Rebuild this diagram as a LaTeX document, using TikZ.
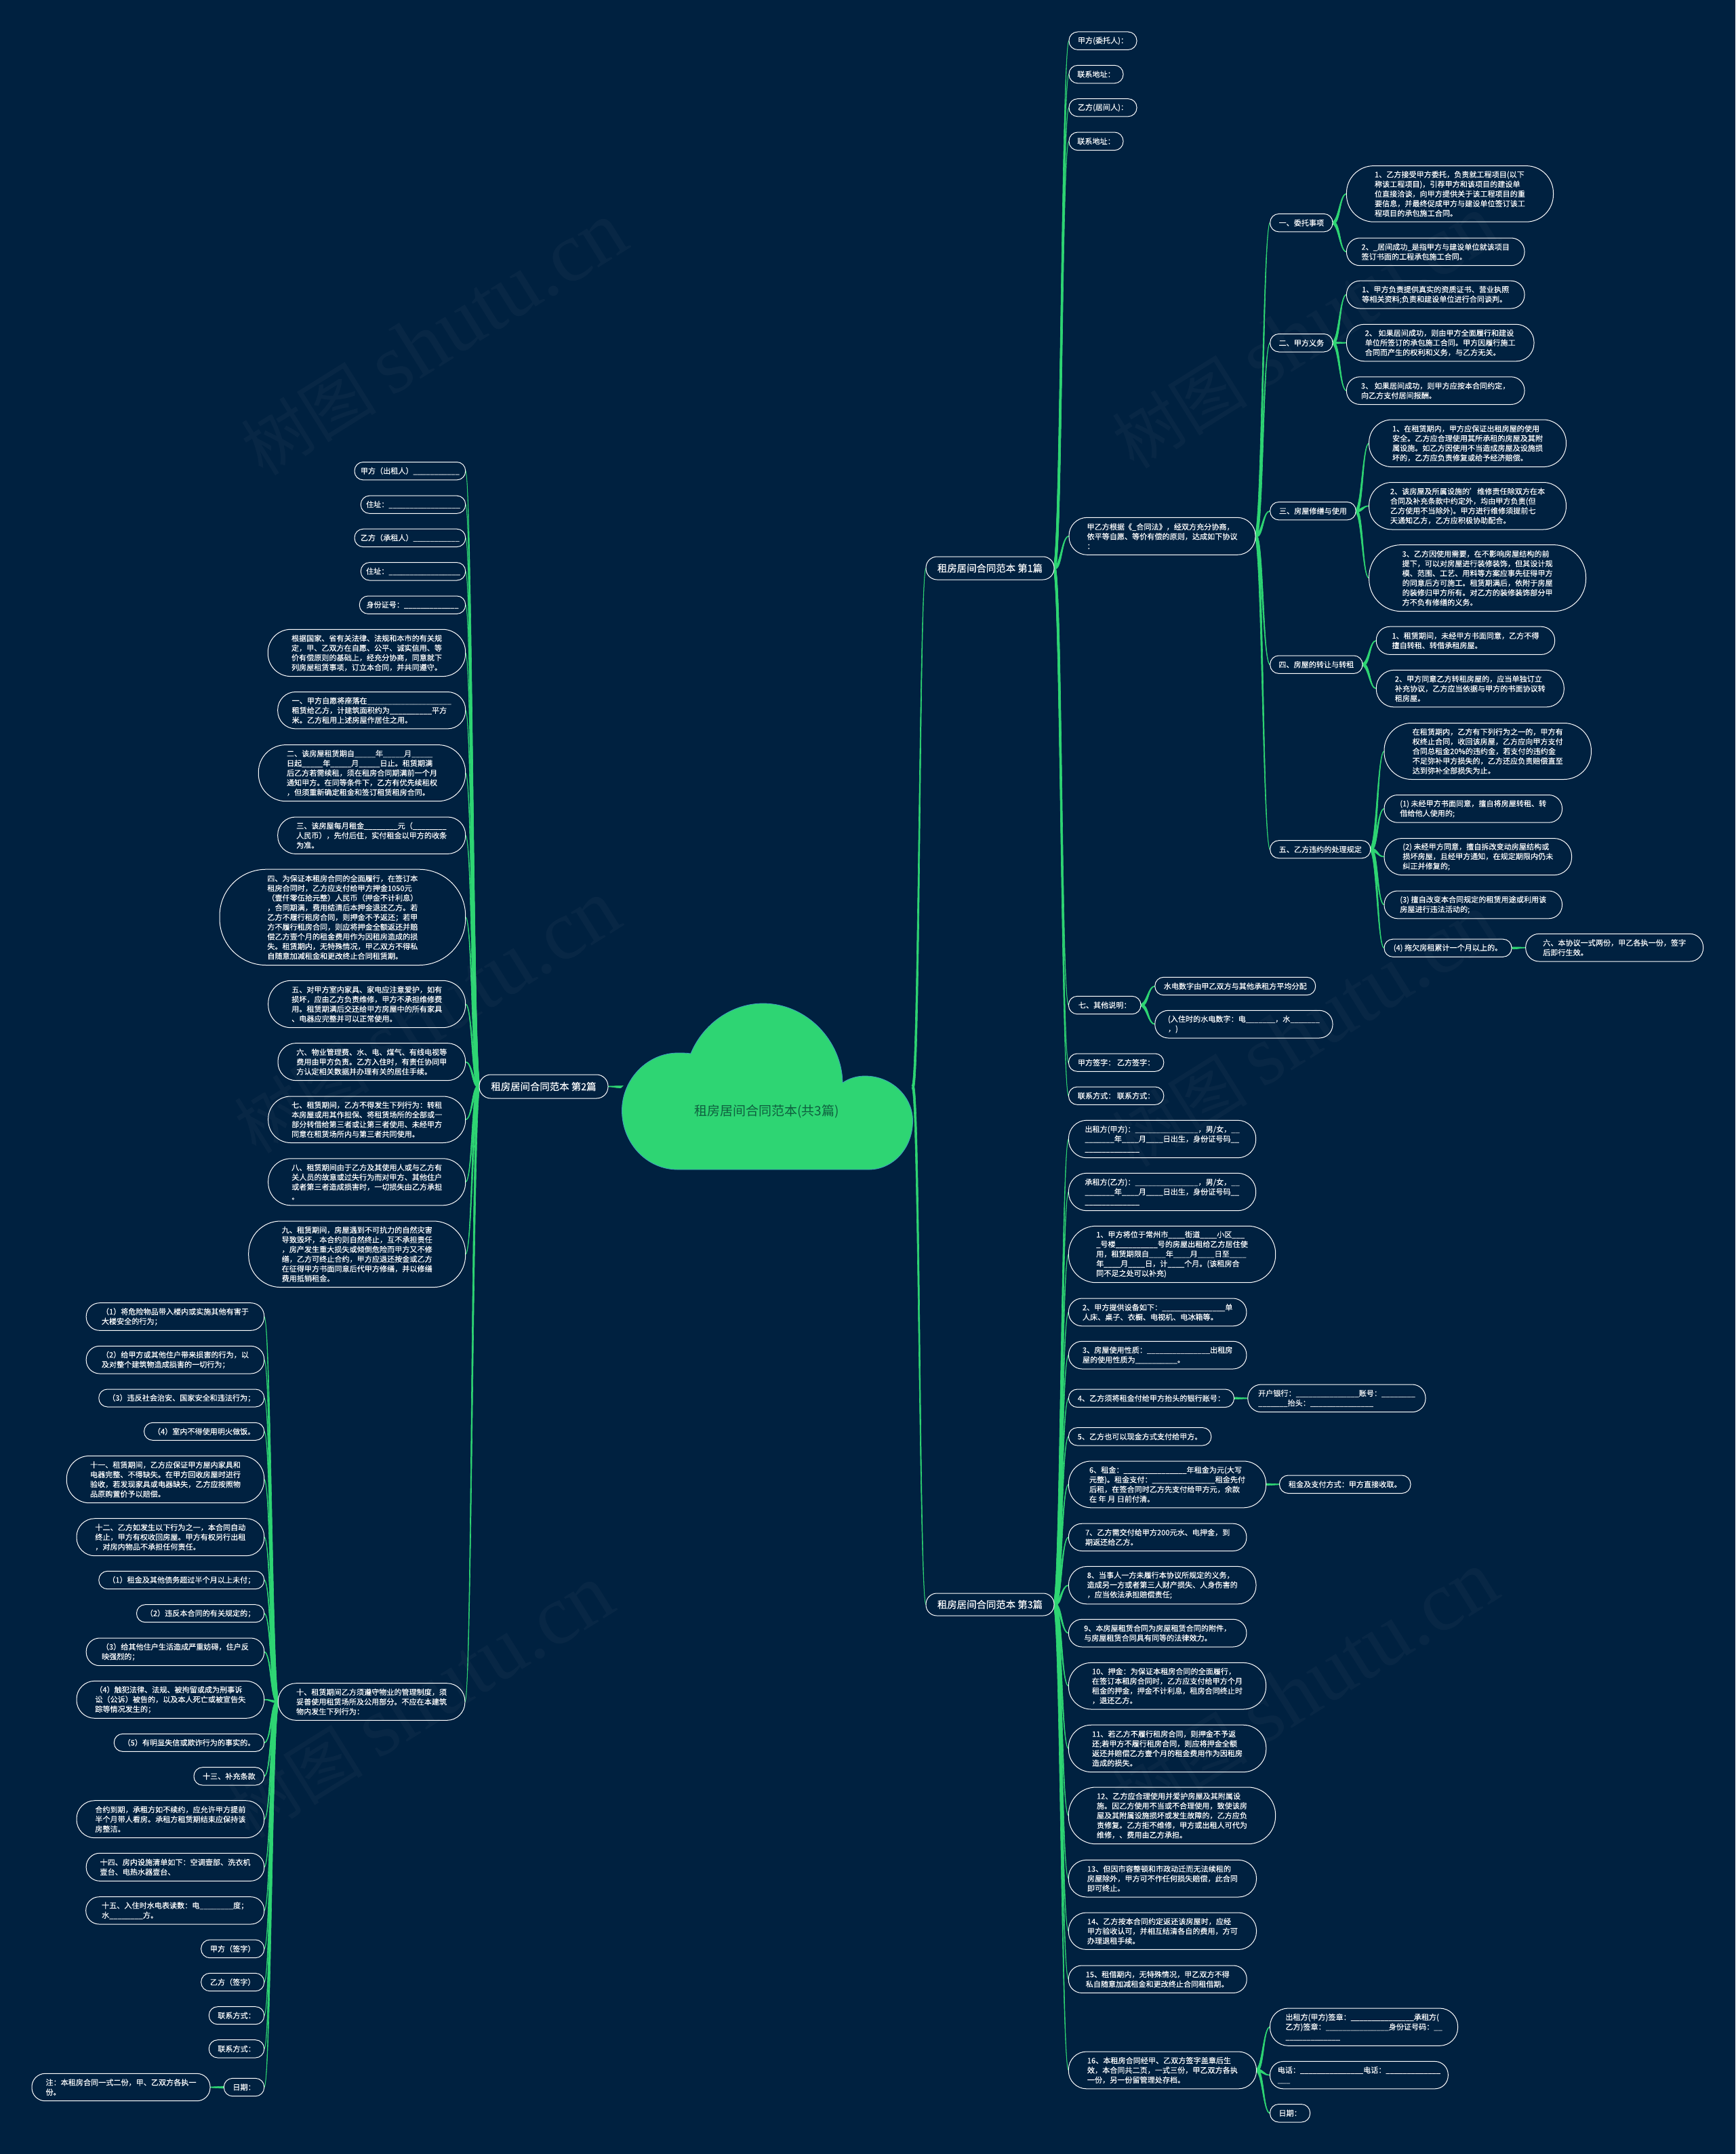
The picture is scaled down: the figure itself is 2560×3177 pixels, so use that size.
\documentclass[tikz,border=0pt]{standalone}
\usepackage{fontspec}
\setmainfont{Noto Sans CJK SC}[FakeBold=0.15]
\newfontfamily\wmhan{Noto Sans CJK SC}
\newfontfamily\wmlatin{Liberation Serif}
\usetikzlibrary{calc}
\definecolor{pagebg}{HTML}{002140}
\definecolor{leaf}{HTML}{2ED573}
\definecolor{cloudedge}{HTML}{3F9FC0}
\definecolor{cloudtext}{HTML}{0F5F3F}
\pgfdeclarelayer{wires}
\pgfdeclarelayer{mark}
\pgfsetlayers{wires,main,mark}
\tikzset{
 box/.style={draw=white,line width=1pt,fill=pagebg,text=white,inner sep=0pt,outer sep=0pt,align=left,
  font=\fontsize{11.1pt}{14.3pt}\selectfont},
 big/.style={font=\fontsize{14.4pt}{18pt}\selectfont},
 wire/.style={draw=leaf,fill=leaf,line width=0.6pt},
 wm/.style={text=white,opacity=0.03,rotate=32,inner sep=0pt,font=\wmhan\fontsize{100pt}{110pt}\selectfont}
}
\newcommand\nn[7][]{%
 \pgfmathsetmacro\mw{#5-#3}\pgfmathsetmacro\mh{#6-#4}%
 \pgfmathsetmacro\mx{(#3+#5)/2}\pgfmathsetmacro\my{(#4+#6)/2}%
 \pgfmathsetmacro\mrad{(#6-#4)/2*0.97}%
 \node[box,#1,minimum width=\mw pt,minimum height=\mh pt,rounded corners=\mrad pt] (#2) at (\mx,\my) {#7};}
\newcommand\link[2]{%
 \begin{pgfonlayer}{wires}
 \draw[wire] let \p1=(#1),\p2=(#2),\n1={(\x1+\x2)/2},
  \n2={ifthenelse(\y2<\y1,1,-1)*ifthenelse(\x2>\x1,1,-1)} in
  ({\x1+\n2*1.5pt},{\y1+1.5pt}) .. controls ({\n1+\n2*1.5pt},{\y1+1.5pt}) and ({\n1+\n2*0.5pt},{\y2+0.5pt}) .. ({\x2},{\y2+0.5pt})
  -- ({\x2},{\y2-0.5pt}) .. controls ({\n1-\n2*0.5pt},{\y2-0.5pt}) and ({\n1-\n2*1.5pt},{\y1-1.5pt}) .. ({\x1-\n2*1.5pt},{\y1-1.5pt}) -- cycle;
 \end{pgfonlayer}}
\newcommand\linkset[2]{\foreach \c in {#2}{\link{#1}{\c.west}}}
\newcommand\linksetL[2]{\foreach \c in {#2}{\link{#1}{\c.east}}}
\catcode`\_=12
\begin{document}
\begin{tikzpicture}[x=1pt,y=-1pt]
\useasboundingbox (0,0) rectangle (2560,3177);
\begin{pgfonlayer}{wires}
\fill[pagebg] (0,0) rectangle (2560,3177);
\end{pgfonlayer}
% cloud
\draw[fill=leaf,draw=cloudedge,line width=0.8pt] (1000,1725)
 .. controls (953,1725) and (917.5,1685) .. (917.5,1638)
 .. controls (917.5,1592) and (955,1553) .. (1000,1553)
 .. controls (1007,1553) and (1013,1553) .. (1019,1554)
 .. controls (1037,1510) and (1080,1480) .. (1125.5,1480)
 .. controls (1190,1480) and (1242,1535) .. (1243,1597)
 .. controls (1253,1590) and (1265,1587) .. (1276,1587)
 .. controls (1316,1587) and (1346.5,1618) .. (1346.5,1653)
 .. controls (1346.5,1695) and (1316,1725) .. (1282,1725) -- cycle;
\node[text=cloudtext,inner sep=0pt,font=\wmhan\fontsize{19pt}{24pt}\selectfont] (root) at (1131,1639) {租房居间合同范本(共3篇)};
\coordinate (rootR) at (1346.5,1603);
\coordinate (rootL) at (917.5,1603);
% branches
\nn[big]{bA}{1366}{821}{1555}{855}{租房居间合同范本 第1篇}
\nn[big]{bB}{707}{1585}{897}{1620}{租房居间合同范本 第2篇}
\nn[big]{bC}{1366}{2350}{1555}{2383}{租房居间合同范本 第3篇}
% part 1
\nn{a1}{1577}{47}{1677}{73.4}{甲方(委托人)：}
\nn{a2}{1577}{96.3}{1657}{122.8}{联系地址：}
\nn{a3}{1577}{145.7}{1677}{171.8}{乙方(居间人)：}
\nn{a4}{1577}{195}{1657}{221.7}{联系地址：}
\nn{a5}{1577}{763.3}{1852}{818.3}{甲乙方根据《_合同法》，经双方充分协商，\\依平等自愿、等价有偿的原则，达成如下协议\\：}
\nn{c1}{1873.7}{315.4}{1966}{341.9}{一、委托事项}
\nn{c11}{1986.4}{244.6}{2291.5}{327.2}{1、乙方接受甲方委托，负责就工程项目(以下\\称该工程项目)，引荐甲方和该项目的建设单\\位直接洽谈，向甲方提供关于该工程项目的重\\要信息，并最终促成甲方与建设单位签订该工\\程项目的承包施工合同。}
\nn{c12}{1986.4}{351}{2249}{391.7}{2、_居间成功_是指甲方与建设单位就该项目\\签订书面的工程承包施工合同。}
\nn{c2}{1873.7}{492.5}{1966}{519}{二、甲方义务}
\nn{c21}{1986.4}{414.2}{2249}{455}{1、甲方负责提供真实的资质证书、营业执照\\等相关资料;负责和建设单位进行合同谈判。}
\nn{c22}{1986.4}{478.3}{2263}{532.8}{2、 如果居间成功，则由甲方全面履行和建设\\单位所签订的承包施工合同。甲方因履行施工\\合同而产生的权利和义务，与乙方无关。}
\nn{c23}{1986.4}{555.8}{2249}{596.5}{3、 如果居间成功，则甲方应按本合同约定，\\向乙方支付居间报酬。}
\nn{c3}{1873.7}{740.4}{2000.2}{766.9}{三、房屋修缮与使用}
\nn{c31}{2019.6}{619}{2310.4}{688.6}{1、在租赁期内，甲方应保证出租房屋的使用\\安全。乙方应合理使用其所承租的房屋及其附\\属设施。如乙方因使用不当造成房屋及设施损\\坏的，乙方应负责修复或给予经济赔偿。}
\nn{c32}{2019.6}{711.5}{2310.4}{781}{2、该房屋及所属设施的'维修责任除双方在本\\合同及补充条款中约定外，均由甲方负责(但\\乙方使用不当除外)。甲方进行维修须提前七\\天通知乙方，乙方应积极协助配合。}
\nn{c33}{2019.6}{803.6}{2339.5}{901.7}{3、乙方因使用需要，在不影响房屋结构的前\\提下，可以对房屋进行装修装饰，但其设计规\\模、范围、工艺、用料等方案应事先征得甲方\\的同意后方可施工。租赁期满后，依附于房屋\\的装修归甲方所有。对乙方的装修装饰部分甲\\方不负有修缮的义务。}
\nn{c4}{1873.7}{967}{2010}{993.4}{四、房屋的转让与转租}
\nn{c41}{2030.3}{924.2}{2293.6}{965.4}{1、租赁期间，未经甲方书面同意，乙方不得\\擅自转租、转借承租房屋。}
\nn{c42}{2030.3}{988.3}{2307.3}{1042.9}{2、甲方同意乙方转租房屋的，应当单独订立\\补充协议，乙方应当依据与甲方的书面协议转\\租房屋。}
\nn{c5}{1873.7}{1239.7}{2021.8}{1265.8}{五、乙方违约的处理规定}
\nn{c51}{2042}{1066.5}{2347.4}{1149.5}{在租赁期内，乙方有下列行为之一的，甲方有\\权终止合同，收回该房屋，乙方应向甲方支付\\合同总租金20\%的违约金，若支付的违约金\\不足弥补甲方损失的，乙方还应负责赔偿直至\\达到弥补全部损失为止。}
\nn{c52}{2042}{1172.5}{2304.5}{1213.2}{(1) 未经甲方书面同意，擅自将房屋转租、转\\借给他人使用的;}
\nn{c53}{2042}{1236.5}{2318.6}{1290.7}{(2) 未经甲方同意，擅自拆改变动房屋结构或\\损坏房屋，且经甲方通知，在规定期限内仍未\\纠正并修复的;}
\nn{c54}{2042}{1314}{2304.5}{1354.8}{(3) 擅自改变本合同规定的租赁用途或利用该\\房屋进行违法活动的;}
\nn{c55}{2042}{1385.2}{2230}{1411.3}{(4) 拖欠房租累计一个月以上的。}
\nn{c56}{2250.7}{1377.3}{2512.6}{1418}{六、本协议一式两份，甲乙各执一份，签字\\后即行生效。}
\nn{a6}{1576.4}{1469.3}{1683}{1495.7}{七、其他说明：}
\nn{a61}{1703.8}{1441.3}{1940.7}{1467.7}{水电数字由甲乙双方与其他承租方平均分配}
\nn{a62}{1703.8}{1490.3}{1966}{1531}{(入住时的水电数字：电_______，水_______\\，)}
\nn{a7}{1576.4}{1554}{1716.8}{1580.3}{甲方签字： 乙方签字：}
\nn{a8}{1576.4}{1603}{1716.8}{1629.3}{联系方式： 联系方式：}
% part 3
\nn{d1}{1576.4}{1652.3}{1852.7}{1707.7}{出租方(甲方)：_______________，男/女，__\\_______年____月____日出生，身份证号码__\\_____________}
\nn{d2}{1576.4}{1730.3}{1852.7}{1785.7}{承租方(乙方)：_______________，男/女，__\\_______年____月____日出生，身份证号码__\\_____________}
\nn{d3}{1576.4}{1808.3}{1881.7}{1891.7}{1、甲方将位于常州市____街道____小区___\\_号楼__________号的房屋出租给乙方居住使\\用，租赁期限自____年____月____日至____\\年____月____日，计____个月。(该租房合\\同不足之处可以补充)}
\nn{d4}{1576.4}{1915}{1838.9}{1955.8}{2、甲方提供设备如下：_______________单\\人床、桌子、衣橱、电视机、电冰箱等。}
\nn{d5}{1576.4}{1978.3}{1838.9}{2019}{3、房屋使用性质：_______________出租房\\屋的使用性质为__________。}
\nn{d6}{1576.4}{2049}{1820.5}{2075.6}{4、乙方须将租金付给甲方抬头的银行账号：}
\nn{d61}{1840.8}{2042}{2103}{2082.7}{开户银行：_______________账号：________\\_______抬头：_______________}
\nn{d7}{1576.4}{2105.6}{1786.8}{2132}{5、乙方也可以现金方式支付给甲方。}
\nn{d8}{1576.4}{2155}{1867.6}{2223.8}{6、租金：_______________年租金为元(大写\\元整)。租金支付：_______________租金先付\\后租，在签合同时乙方先支付给甲方元，余款\\在 年 月 日前付清。}
\nn{d81}{1887.5}{2176}{2081}{2202.5}{租金及支付方式：甲方直接收取。}
\nn{d9}{1576.4}{2247.2}{1838.9}{2287.5}{7、乙方需交付给甲方200元水、电押金，到\\期返还给乙方。}
\nn{d10}{1576.4}{2310.4}{1853}{2365.8}{8、当事人一方未履行本协议所规定的义务，\\造成另一方或者第三人财产损失、人身伤害的\\，应当依法承担赔偿责任;}
\nn{d11}{1576.4}{2388.3}{1838.9}{2429}{9、本房屋租赁合同为房屋租赁合同的附件，\\与房屋租赁合同具有同等的法律效力。}
\nn{d12}{1576.4}{2452.4}{1867.6}{2521}{10、押金：为保证本租房合同的全面履行，\\在签订本租房合同时，乙方应支付给甲方个月\\租金的押金，押金不计利息，租房合同终止时\\，退还乙方。}
\nn{d13}{1576.3}{2544.2}{1867.8}{2613.6}{11、若乙方不履行租房合同，则押金不予返\\还;若甲方不履行租房合同，则应将押金全额\\返还并赔偿乙方壹个月的租金费用作为因租房\\造成的损失。}
\nn{d14}{1576.3}{2636}{1881.6}{2719.7}{12、乙方应合理使用并爱护房屋及其附属设\\施。因乙方使用不当或不合理使用，致使该房\\屋及其附属设施损坏或发生故障的，乙方应负\\责修复。乙方拒不维修，甲方或出租人可代为\\维修，、费用由乙方承担。}
\nn{d15}{1576.3}{2743.3}{1853.5}{2798}{13、但因市容整顿和市政动迁而无法续租的\\房屋除外，甲方可不作任何损失赔偿，此合同\\即可终止。}
\nn{d16}{1576.3}{2821}{1853.5}{2875.4}{14、乙方按本合同约定返还该房屋时，应经\\甲方验收认可，并相互结清各自的费用，方可\\办理退租手续。}
\nn{d17}{1576.3}{2899}{1839.2}{2939.4}{15、租借期内，无特殊情况，甲乙双方不得\\私自随意加减租金和更改终止合同租借期。}
\nn{d18}{1576.3}{3026}{1853.5}{3080.8}{16、本租房合同经甲、乙双方签字盖章后生\\效，本合同共二页，一式三份，甲乙双方各执\\一份，另一份留管理处存档。}
\nn{d181}{1873.5}{2962}{2150.6}{3017.3}{出租方(甲方)签章：_______________承租方(\\乙方)签章：_______________身份证号码：__\\_____________}
\nn{d182}{1873.5}{3040.4}{2136.3}{3080.8}{电话：_______________电话：_____________\\___}
\nn{d183}{1873.5}{3103.5}{1932.7}{3130}{日期：}
% part 2
\nn{e1}{523}{681.5}{686.7}{707.9}{甲方（出租人）___________}
\nn{e2}{532.3}{731.2}{686.7}{757.3}{住址：_________________}
\nn{e3}{523}{780.2}{686.7}{806.6}{乙方（承租人）___________}
\nn{e4}{532.3}{829.6}{686.7}{856}{住址：_________________}
\nn{e5}{530.3}{879}{686.7}{905.4}{身份证号：_____________}
\nn{e6}{395.3}{928.3}{686.7}{997.6}{根据国家、省有关法律、法规和本市的有关规\\定，甲、乙双方在自愿、公平、诚实信用、等\\价有偿原则的基础上，经充分协商，同意就下\\列房屋租赁事项，订立本合同，并共同遵守。}
\nn{e7}{409.7}{1020.5}{686.7}{1074.9}{一、甲方自愿将座落在____________________\\租赁给乙方，计建筑面积约为__________平方\\米。乙方租用上述房屋作居住之用。}
\nn{e8}{381.3}{1098.6}{686.7}{1181.7}{二、该房屋租赁期自_____年_____月_____\\日起_____年_____月_____日止。租赁期满\\后乙方若需续租，须在租房合同期满前一个月\\通知甲方。在同等条件下，乙方有优先续租权\\，但须重新确定租金和签订租赁租房合同。}
\nn{e9}{409.7}{1205}{686.7}{1259.4}{三、该房屋每月租金________元（________\\人民币），先付后住，实付租金以甲方的收条\\为准。}
\nn{e10}{324}{1282.2}{686.7}{1423.5}{四、为保证本租房合同的全面履行，在签订本\\租房合同时，乙方应支付给甲方押金1050元\\（壹仟零伍拾元整）人民币（押金不计利息）\\，合同期满，费用结清后本押金退还乙方。若\\乙方不履行租房合同，则押金不予返还；若甲\\方不履行租房合同，则应将押金全额返还并赔\\偿乙方壹个月的租金费用作为因租房造成的损\\失。租赁期内，无特殊情况，甲乙双方不得私\\自随意加减租金和更改终止合同租赁期。}
\nn{e11}{395.7}{1446.3}{686.7}{1515.7}{五、对甲方室内家具、家电应注意爱护，如有\\损坏，应由乙方负责维修，甲方不承担维修费\\用。租赁期满后交还给甲方房屋中的所有家具\\、电器应完整并可以正常使用。}
\nn{e12}{410}{1538.6}{686.7}{1593.7}{六、物业管理费、水、电、煤气、有线电视等\\费用由甲方负责。乙方入住时，有责任协同甲\\方认定相关数据并办理有关的居住手续。}
\nn{e13}{395.7}{1617}{686.7}{1685.5}{七、租赁期间，乙方不得发生下列行为：转租\\本房屋或用其作担保、将租赁场所的全部或一\\部分转借给第三者或让第三者使用、未经甲方\\同意在租赁场所内与第三者共同使用。}
\nn{e14}{395.7}{1708.8}{686.7}{1777.8}{八、租赁期间由于乙方及其使用人或与乙方有\\关人员的故意或过失行为而对甲方、其他住户\\或者第三者造成损害时，一切损失由乙方承担\\。}
\nn{e15}{366.7}{1801}{686.7}{1898.6}{九、租赁期间，房屋遇到不可抗力的自然灾害\\导致毁坏，本合约则自然终止，互不承担责任\\，房产发生重大损失或倾倒危险而甲方又不修\\缮，乙方可终止合约，甲方应退还按金或乙方\\在征得甲方书面同意后代甲方修缮，并以修缮\\费用抵销租金。}
\nn{e16}{410.3}{2482.7}{685.9}{2537.3}{十、租赁期间乙方须遵守物业的管理制度，须\\妥善使用租赁场所及公用部分。不应在本建筑\\物内发生下列行为：}
\nn{f1}{127.2}{1921.7}{389.7}{1962.3}{（1）将危险物品带入楼内或实施其他有害于\\大楼安全的行为；}
\nn{f2}{127.2}{1985.3}{389.7}{2026}{（2）给甲方或其他住户带来损害的行为，以\\及对整个建筑物造成损害的一切行为；}
\nn{f3}{145.8}{2049}{389.7}{2075}{（3）违反社会治安、国家安全和违法行为；}
\nn{f4}{212.6}{2098.3}{389.7}{2124.3}{（4）室内不得使用明火做饭。}
\nn{f5}{98.3}{2147.3}{389.7}{2216.7}{十一、租赁期间，乙方应保证甲方屋内家具和\\电器完整、不得缺失。在甲方回收房屋时进行\\验收，若发现家具或电器缺失，乙方应按照物\\品原购置价予以赔偿。}
\nn{f6}{113}{2239.7}{389.7}{2294.7}{十二、乙方如发生以下行为之一，本合同自动\\终止，甲方有权收回房屋。甲方有权另行出租\\，对房内物品不承担任何责任。}
\nn{f7}{145.8}{2317.3}{389.7}{2343.7}{（1）租金及其他债务超过半个月以上未付；}
\nn{f8}{201.5}{2366.7}{389.7}{2392.7}{（2）违反本合同的有关规定的；}
\nn{f9}{127.2}{2416}{389.7}{2456.7}{（3）给其他住户生活造成严重妨碍，住户反\\映强烈的；}
\nn{f10}{113}{2479.3}{389.7}{2534.3}{（4）触犯法律、法规、被拘留或成为刑事诉\\讼（公诉）被告的，以及本人死亡或被宣告失\\踪等情况发生的；}
\nn{f11}{168.3}{2557.3}{389.7}{2583.3}{（5）有明显失信或欺诈行为的事实的。}
\nn{f12}{286}{2606.7}{389.7}{2633}{十三、补充条款}
\nn{f13}{113}{2655.7}{389.7}{2710.7}{合约到期，承租方如不续约，应允许甲方提前\\半个月带人看房。承租方租赁期结束应保持该\\房整洁。}
\nn{f14}{127.2}{2733.3}{389.7}{2774.3}{十四、房内设施清单如下：空调壹部、洗衣机\\壹台、电热水器壹台、}
\nn{f15}{126.7}{2797.7}{389.7}{2838}{十五、入住时水电表读数：电________度；\\水________方。}
\nn{f16}{296.7}{2861}{389.7}{2887.7}{甲方（签字）}
\nn{f17}{296.7}{2910.3}{389.7}{2936.7}{乙方（签字）}
\nn{f18}{308.3}{2959.7}{389.7}{2985.7}{联系方式：}
\nn{f19}{308.3}{3008.7}{389.7}{3035}{联系方式：}
\nn{f20}{330.3}{3065.3}{389.7}{3091.7}{日期：}
\nn{f21}{47}{3058.3}{310}{3098.7}{注：本租房合同一式二份，甲、乙双方各执一\\份。}
% connectors
\link{rootR}{bA.west}
\link{rootR}{bC.west}
\link{rootL}{bB.east}
\linkset{bA.east}{a1,a2,a3,a4,a5,a6,a7,a8}
\linkset{a5.east}{c1,c2,c3,c4,c5}
\linkset{c1.east}{c11,c12}
\linkset{c2.east}{c21,c22,c23}
\linkset{c3.east}{c31,c32,c33}
\linkset{c4.east}{c41,c42}
\linkset{c5.east}{c51,c52,c53,c54,c55}
\link{c55.east}{c56.west}
\linkset{a6.east}{a61,a62}
\linkset{bC.east}{d1,d2,d3,d4,d5,d6,d7,d8,d9,d10,d11,d12,d13,d14,d15,d16,d17,d18}
\link{d6.east}{d61.west}
\link{d8.east}{d81.west}
\linkset{d18.east}{d181,d182,d183}
\linksetL{bB.west}{e1,e2,e3,e4,e5,e6,e7,e8,e9,e10,e11,e12,e13,e14,e15,e16}
\linksetL{e16.west}{f1,f2,f3,f4,f5,f6,f7,f8,f9,f10,f11,f12,f13,f14,f15,f16,f17,f18,f19,f20}
\link{f20.west}{f21.east}
% watermark
\begin{pgfonlayer}{mark}
\foreach \wn/\wx/\wy in {w1/640/500,w2/630/1500,w3/620/2510,w4/1925/490,w5/1925/1520,w6/1925/2490}{
 \node[wm] (\wn) at (\wx,\wy) {树图 {\wmlatin\fontsize{125pt}{130pt}\selectfont shutu.cn}};
}
\end{pgfonlayer}
\end{tikzpicture}
\end{document}
